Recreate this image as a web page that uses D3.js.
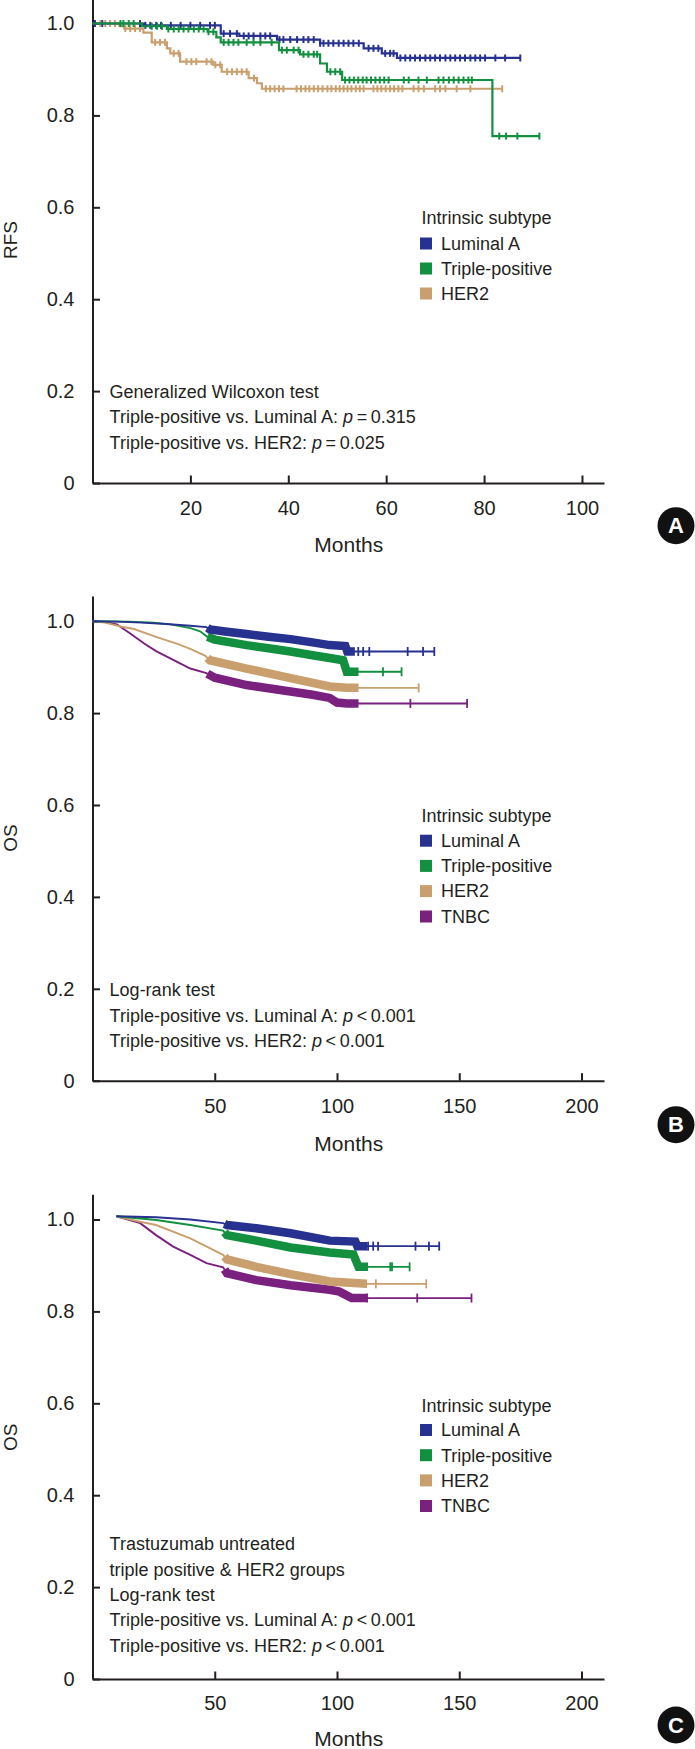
<!DOCTYPE html>
<html><head><meta charset="utf-8">
<script src="https://cdn.jsdelivr.net/npm/d3@7"></script>
<style>body{margin:0;background:#fff}svg{display:block}</style>
</head><body><svg id="chart"></svg>
<script>
// ================= DATA =================
const survivalTicks = [0, 0.2, 0.4, 0.6, 0.8, 1.0];
const rfsMonthTicks = [20, 40, 60, 80, 100];
const osMonthTicks = [50, 100, 150, 200];
const subtypes = ["Luminal A", "Triple-positive", "HER2", "TNBC"];
const legendTitle = "Intrinsic subtype";
const xTitle = "Months";

// ---- Panel A: RFS (step events [month, survival]) ----
const rfsLuminalA = [[0,1],[10.5,0.996],[26.2,0.978],[30,0.973],[37.7,0.965],[46.5,0.957],[55.4,0.946],[59.1,0.935],[62.2,0.925],[87.4,0.925]];
const rfsLuminalACensor = [0.5,2,9.7,10.8,11.8,13,14,16,18,20,22,24,25,26.8,28.1,29.5,30.9,31.9,32.9,34.3,35.3,36.3,38.2,39.0,40.4,41.8,43.1,44.1,45.2,46.5,47.2,48.2,49.2,50.3,51.3,52.3,53.3,54.4,56.4,57.4,58.4,59.8,60.8,61.5,62.9,63.9,64.9,65.9,66.9,68.0,69.0,70.0,71.0,72.1,73.1,74.1,75.1,76.1,77.2,78.2,79.2,80.2,82.3,84.3,87.4];
const rfsTriplePos = [[0,1],[10.1,0.994],[15.2,0.988],[23.5,0.982],[25.3,0.970],[26.2,0.959],[38.1,0.942],[42.4,0.933],[46.5,0.913],[47.9,0.895],[51.0,0.877],[81.7,0.755],[91.3,0.755]];
const rfsTriplePosCensor = [5.7,6.3,7.4,8.4,12.1,13.2,14.2,15.5,16.6,17.6,18.6,19.6,20.7,21.7,22.7,23.7,24.7,26.8,27.8,28.8,29.8,31.5,32.9,34.3,36.6,38.7,39.7,41.1,42.1,43.1,44.1,45.2,45.9,48.6,49.6,50.6,51.6,52.5,53.4,54.3,55.2,56.0,56.9,57.8,58.7,59.6,60.5,63.6,64.6,66.6,68.3,70.7,71.7,72.8,73.8,74.8,75.8,76.8,77.5,83.1,84.5,86.8,91.3];
const rfsHER2 = [[0,1],[5.5,0.994],[6.5,0.989],[10.4,0.980],[12.1,0.959],[15.2,0.946],[15.9,0.935],[17.9,0.917],[24.7,0.910],[26.4,0.895],[31.9,0.881],[33.6,0.870],[34.6,0.858],[83.7,0.858]];
const rfsHER2Censor = [1.6,2.6,3.6,4.6,6.7,7.7,8.7,9.7,12.8,13.8,14.8,16.6,17.6,19.2,20.2,21.2,23.3,24.3,25.1,26.1,27.5,28.5,29.5,30.5,31.5,33.0,35.4,36.3,37.2,38.1,39.0,41.7,42.6,43.5,44.3,45.2,46.1,47.0,48.0,48.8,49.7,50.5,51.3,52.1,52.9,53.8,54.6,55.4,57.4,58.2,59.0,59.9,60.8,61.6,62.5,63.3,65.6,66.6,67.7,70.0,71.0,72.1,74.4,77.2,83.7];
const rfsAnnotation = ["Generalized Wilcoxon test", "Triple-positive vs. Luminal A: *p*\u2009=\u20090.315", "Triple-positive vs. HER2: *p*\u2009=\u20090.025"];

// ---- Panel B: OS, all patients ([month, survival]; dense censoring shown as band) ----
const osLuminalA = [[0,1],[10,0.999],[20,0.997],[30,0.994],[40,0.990],[46.6,0.987],[48,0.982],[55,0.977],[63,0.972],[72,0.966],[81,0.961],[90,0.954],[97,0.948],[103.4,0.946],[104.2,0.934],[139.8,0.934]];
const osLuminalABand = [47, 107.3];
const osLuminalACensor = [108.7,110.7,113.2,128.9,135.2,139.8];
const osTriplePos = [[0,1],[15,0.999],[25,0.997],[32,0.993],[40,0.985],[44,0.978],[47,0.966],[50,0.960],[63,0.948],[72,0.941],[81,0.934],[90,0.926],[97,0.920],[102.5,0.915],[104,0.890],[126.4,0.890]];
const osTriplePosBand = [47, 108.8];
const osTriplePosCensor = [118.8,126.4];
const osHER2 = [[0,1],[5,0.997],[12,0.988],[17,0.983],[26,0.966],[35,0.950],[40,0.940],[46,0.925],[48,0.915],[63,0.897],[81,0.876],[97,0.858],[104,0.855],[133.4,0.855]];
const osHER2Band = [47, 108.8];
const osHER2Censor = [133.4];
const osTNBC = [[0,1],[5,0.998],[10,0.993],[15,0.975],[21,0.952],[26,0.935],[33,0.916],[40,0.897],[46.6,0.887],[50,0.877],[63,0.861],[81,0.847],[90,0.840],[97,0.833],[100,0.823],[104,0.821],[153.2,0.821]];
const osTNBCBand = [47, 108.8];
const osTNBCCensor = [130,153.2];
const osAnnotation = ["Log-rank test", "Triple-positive vs. Luminal A: *p*\u2009<\u20090.001", "Triple-positive vs. HER2: *p*\u2009<\u20090.001"];

// ---- Panel C: OS, trastuzumab untreated ----
const osuLuminalA = [[9.8,1.007],[26,1.005],[40,1.0],[53.4,0.992],[55,0.988],[67,0.981],[81,0.970],[97,0.954],[107.5,0.952],[108.3,0.942],[141.8,0.942]];
const osuLuminalABand = [54, 112.3];
const osuLuminalACensor = [112.7,114.8,116.8,132.1,137.6,141.8];
const osuTriplePos = [[9.8,1.007],[26,0.999],[40,0.988],[53.4,0.976],[55,0.966],[67,0.954],[81,0.939],[97,0.928],[106.7,0.924],[108.8,0.897],[129.7,0.897]];
const osuTriplePosBand = [54, 112.7];
const osuTriplePosCensor = [121.8,122.5,129.7];
const osuHER2 = [[9.8,1.007],[19.5,0.995],[26,0.988],[40,0.959],[53.4,0.923],[55,0.913],[67,0.897],[81,0.881],[97,0.865],[112,0.860],[136.5,0.860]];
const osuHER2Band = [54, 112.3];
const osuHER2Censor = [115.9,136.5];
const osuTNBC = [[9.8,1.007],[19.5,0.992],[26,0.966],[33,0.941],[40,0.923],[46.6,0.905],[53.4,0.896],[55,0.883],[67,0.868],[81,0.857],[97,0.847],[101,0.843],[106,0.829],[155,0.829]];
const osuTNBCBand = [54, 112.3];
const osuTNBCCensor = [112.3,132.8,155];
const osuAnnotation = ["Trastuzumab untreated", "triple positive & HER2 groups", "Log-rank test", "Triple-positive vs. Luminal A: *p*\u2009<\u20090.001", "Triple-positive vs. HER2: *p*\u2009<\u20090.001"];

// ================= STYLE / LAYOUT =================
const W = 695, H = 1749;
const INK = "#231f20";
const FONT = "'Liberation Sans', Arial, Helvetica, sans-serif";
const COLORS = ["#27318f", "#12903f", "#c9a06d", "#7a2180"];
const X0 = 92.5, X1 = 604;

const svg = d3.select("#chart").attr("width", W).attr("height", H)
  .attr("font-family", FONT);
svg.append("rect").attr("width", W).attr("height", H).attr("fill", "#fff");

const panels = [
  { yZero: 483, yOne: 23.5, xMax: 104.5, xTicks: rfsMonthTicks, xPad: 17.8, yTitle: "RFS",
    step: true, lineW: 2.2, tickLen: 7, tickW: 2, bandW: 0,
    series: [
      { data: rfsHER2, censor: rfsHER2Censor, c: 2 },
      { data: rfsLuminalA, censor: rfsLuminalACensor, c: 0 },
      { data: rfsTriplePos, censor: rfsTriplePosCensor, c: 1 } ],
    nLegend: 3, legendTitleY: 224, legendRowY: [243.5, 268.5, 293.5],
    annotation: rfsAnnotation, annY: [397.5, 423, 448.5],
    monthsY: 552, badge: "A", badgeY: 525.7, yTitleY: 240 },
  { yZero: 1080.7, yOne: 621.2, xMax: 209.2, xTicks: osMonthTicks, xPad: 17.8, yTitle: "OS",
    step: false, lineW: 1.9, tickLen: 9, tickW: 1.8, bandW: 8.5,
    series: [
      { data: osTNBC, band: osTNBCBand, censor: osTNBCCensor, c: 3 },
      { data: osHER2, band: osHER2Band, censor: osHER2Censor, c: 2 },
      { data: osTriplePos, band: osTriplePosBand, censor: osTriplePosCensor, c: 1 },
      { data: osLuminalA, band: osLuminalABand, censor: osLuminalACensor, c: 0 } ],
    nLegend: 4, legendTitleY: 821.5, legendRowY: [840.7, 865.9, 891.1, 916.5],
    annotation: osAnnotation, annY: [996, 1021.5, 1046.5],
    monthsY: 1150.5, badge: "B", badgeY: 1124.7, yTitleY: 838 },
  { yZero: 1679, yOne: 1219.5, xMax: 209.2, xTicks: osMonthTicks, xPad: 17, yTitle: "OS",
    step: false, lineW: 1.9, tickLen: 9, tickW: 1.8, bandW: 8.5,
    series: [
      { data: osuTNBC, band: osuTNBCBand, censor: osuTNBCCensor, c: 3 },
      { data: osuHER2, band: osuHER2Band, censor: osuHER2Censor, c: 2 },
      { data: osuTriplePos, band: osuTriplePosBand, censor: osuTriplePosCensor, c: 1 },
      { data: osuLuminalA, band: osuLuminalABand, censor: osuLuminalACensor, c: 0 } ],
    nLegend: 4, legendTitleY: 1411.5, legendRowY: [1430, 1455.2, 1480.4, 1506],
    annotation: osuAnnotation, annY: [1550, 1575.5, 1601, 1626, 1651.5],
    monthsY: 1745.5, badge: "C", badgeY: 1725, yTitleY: 1437.4 }
];

function survAt(data, t, step) {
  if (t <= data[0][0]) return data[0][1];
  for (let i = data.length - 1; i >= 0; i--) {
    if (data[i][0] <= t) {
      if (step || i === data.length - 1) return data[i][1];
      const a = data[i], b = data[i + 1];
      return a[1] + (b[1] - a[1]) * (t - a[0]) / (b[0] - a[0]);
    }
  }
  return data[0][1];
}

panels.forEach(p => {
  const g = svg.append("g");
  const unit = p.yZero - p.yOne;
  const x = d3.scaleLinear().domain([0, p.xMax]).range([X0, X1]);
  const y = d3.scaleLinear().domain([0, 1.055]).range([p.yZero, p.yZero - 1.055 * unit]);

  // axes
  const ya = g.append("g").attr("transform", `translate(${X0},0)`)
    .call(d3.axisLeft(y).tickValues(survivalTicks)
      .tickFormat(d => d === 0 ? "0" : d3.format(".1f")(d))
      .tickSizeInner(-7.5).tickSizeOuter(0).tickPadding(18));
  const xa = g.append("g").attr("transform", `translate(0,${p.yZero})`)
    .call(d3.axisBottom(x).tickValues(p.xTicks).tickSizeInner(-7.5).tickSizeOuter(0).tickPadding(p.xPad));
  [ya, xa].forEach(a => {
    a.attr("font-family", FONT).attr("font-size", 20);
    a.selectAll(".domain, .tick line").attr("stroke", INK).attr("stroke-width", 2);
    a.selectAll("text").attr("fill", INK);
  });

  // curves
  const line = d3.line().x(d => x(d[0])).y(d => y(d[1]))
    .curve(p.step ? d3.curveStepAfter : d3.curveLinear);
  p.series.forEach(s => {
    const col = COLORS[s.c];
    g.append("path").attr("d", line(s.data)).attr("fill", "none")
      .attr("stroke", col).attr("stroke-width", p.lineW);
    if (s.band) {
      const [bs, be] = s.band;
      const pts = [[bs, survAt(s.data, bs, p.step)],
        ...s.data.filter(d => d[0] > bs && d[0] < be),
        [be, survAt(s.data, be, p.step)]];
      g.append("path").attr("d", line(pts)).attr("fill", "none")
        .attr("stroke", col).attr("stroke-width", p.bandW).attr("stroke-linecap", "butt");
    }
    g.append("g").selectAll("line").data(s.censor).join("line")
      .attr("x1", t => x(t)).attr("x2", t => x(t))
      .attr("y1", t => y(survAt(s.data, t, p.step)) - p.tickLen / 2)
      .attr("y2", t => y(survAt(s.data, t, p.step)) + p.tickLen / 2)
      .attr("stroke", col).attr("stroke-width", p.tickW);
  });

  // legend
  g.append("text").attr("x", 421.5).attr("y", p.legendTitleY).attr("font-size", 18)
    .attr("fill", INK).text(legendTitle);
  subtypes.slice(0, p.nLegend).forEach((name, i) => {
    const cy = p.legendRowY[i];
    g.append("rect").attr("x", 420).attr("y", cy - 6).attr("width", 12).attr("height", 12)
      .attr("fill", COLORS[i]);
    g.append("text").attr("x", 441).attr("y", cy + 6.3).attr("font-size", 18)
      .attr("fill", INK).text(name);
  });

  // annotation
  p.annotation.forEach((ln, i) => {
    const t = g.append("text").attr("x", 109.6).attr("y", p.annY[i]).attr("font-size", 18).attr("fill", INK);
    const parts = ln.split("*p*");
    t.append("tspan").text(parts[0]);
    if (parts.length > 1) {
      t.append("tspan").attr("font-style", "italic").text("p");
      t.append("tspan").text(parts[1]);
    }
  });

  // axis titles
  g.append("text").attr("x", (X0 + X1) / 2 + 0.5).attr("y", p.monthsY).attr("text-anchor", "middle")
    .attr("font-size", 21).attr("fill", INK).text(xTitle);
  g.append("text").attr("transform", `translate(10.5,${p.yTitleY}) rotate(-90)`)
    .attr("text-anchor", "middle").attr("dominant-baseline", "central")
    .attr("font-size", 19).attr("fill", INK).text(p.yTitle);

  // panel badge
  g.append("circle").attr("cx", 676).attr("cy", p.badgeY).attr("r", 18.5).attr("fill", "#111");
  g.append("text").attr("x", 676).attr("y", p.badgeY).attr("text-anchor", "middle")
    .attr("dominant-baseline", "central").attr("font-size", 22).attr("font-weight", "bold")
    .attr("fill", "#fff").text(p.badge);
});
</script></body></html>
